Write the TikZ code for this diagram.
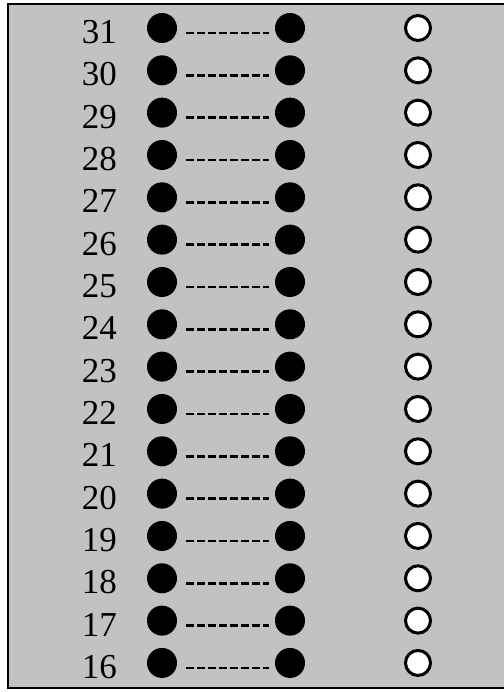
\documentclass[tikz,border=0pt]{standalone}
\usepackage{fontspec}
\setmainfont{Liberation Serif}
\begin{document}
\begin{tikzpicture}[x=1pt,y=1pt,
  dot/.style={circle,fill=black,inner sep=0pt,minimum size=30pt},
  ring/.style={circle,draw=black,line width=3pt,fill=white,inner sep=0pt,minimum size=25pt},
  num/.style={anchor=east,font=\fontsize{35}{35}\selectfont,inner sep=0pt},
  link/.style={line width=2.6pt,dash pattern=on 8pt off 3pt,shorten <=9pt,shorten >=6pt}]
\useasboundingbox (0,0) rectangle (503,-692);
\fill[white] (0,0) rectangle (503,-692);
\fill[black!24] (8,-4) rectangle (510,-688);
\draw[line width=2pt] (510,-4) -- (8,-4) -- (8,-688) -- (510,-688);
\foreach \i in {0,...,15}{
  \pgfmathtruncatemacro{\n}{31-\i}
  \pgfmathsetmacro{\yy}{-(28+\i*42.33)}
  \node[num] (t\n) at (117,\yy-4) {\n};
  \node[dot] (a\n) at (162,\yy) {};
  \node[dot] (b\n) at (290,\yy) {};
  \node[ring] (c\n) at (418,\yy) {};
  \draw[link] ([yshift=-5pt]a\n.east) -- ([yshift=-5pt]b\n.west);
}
\end{tikzpicture}
\end{document}
